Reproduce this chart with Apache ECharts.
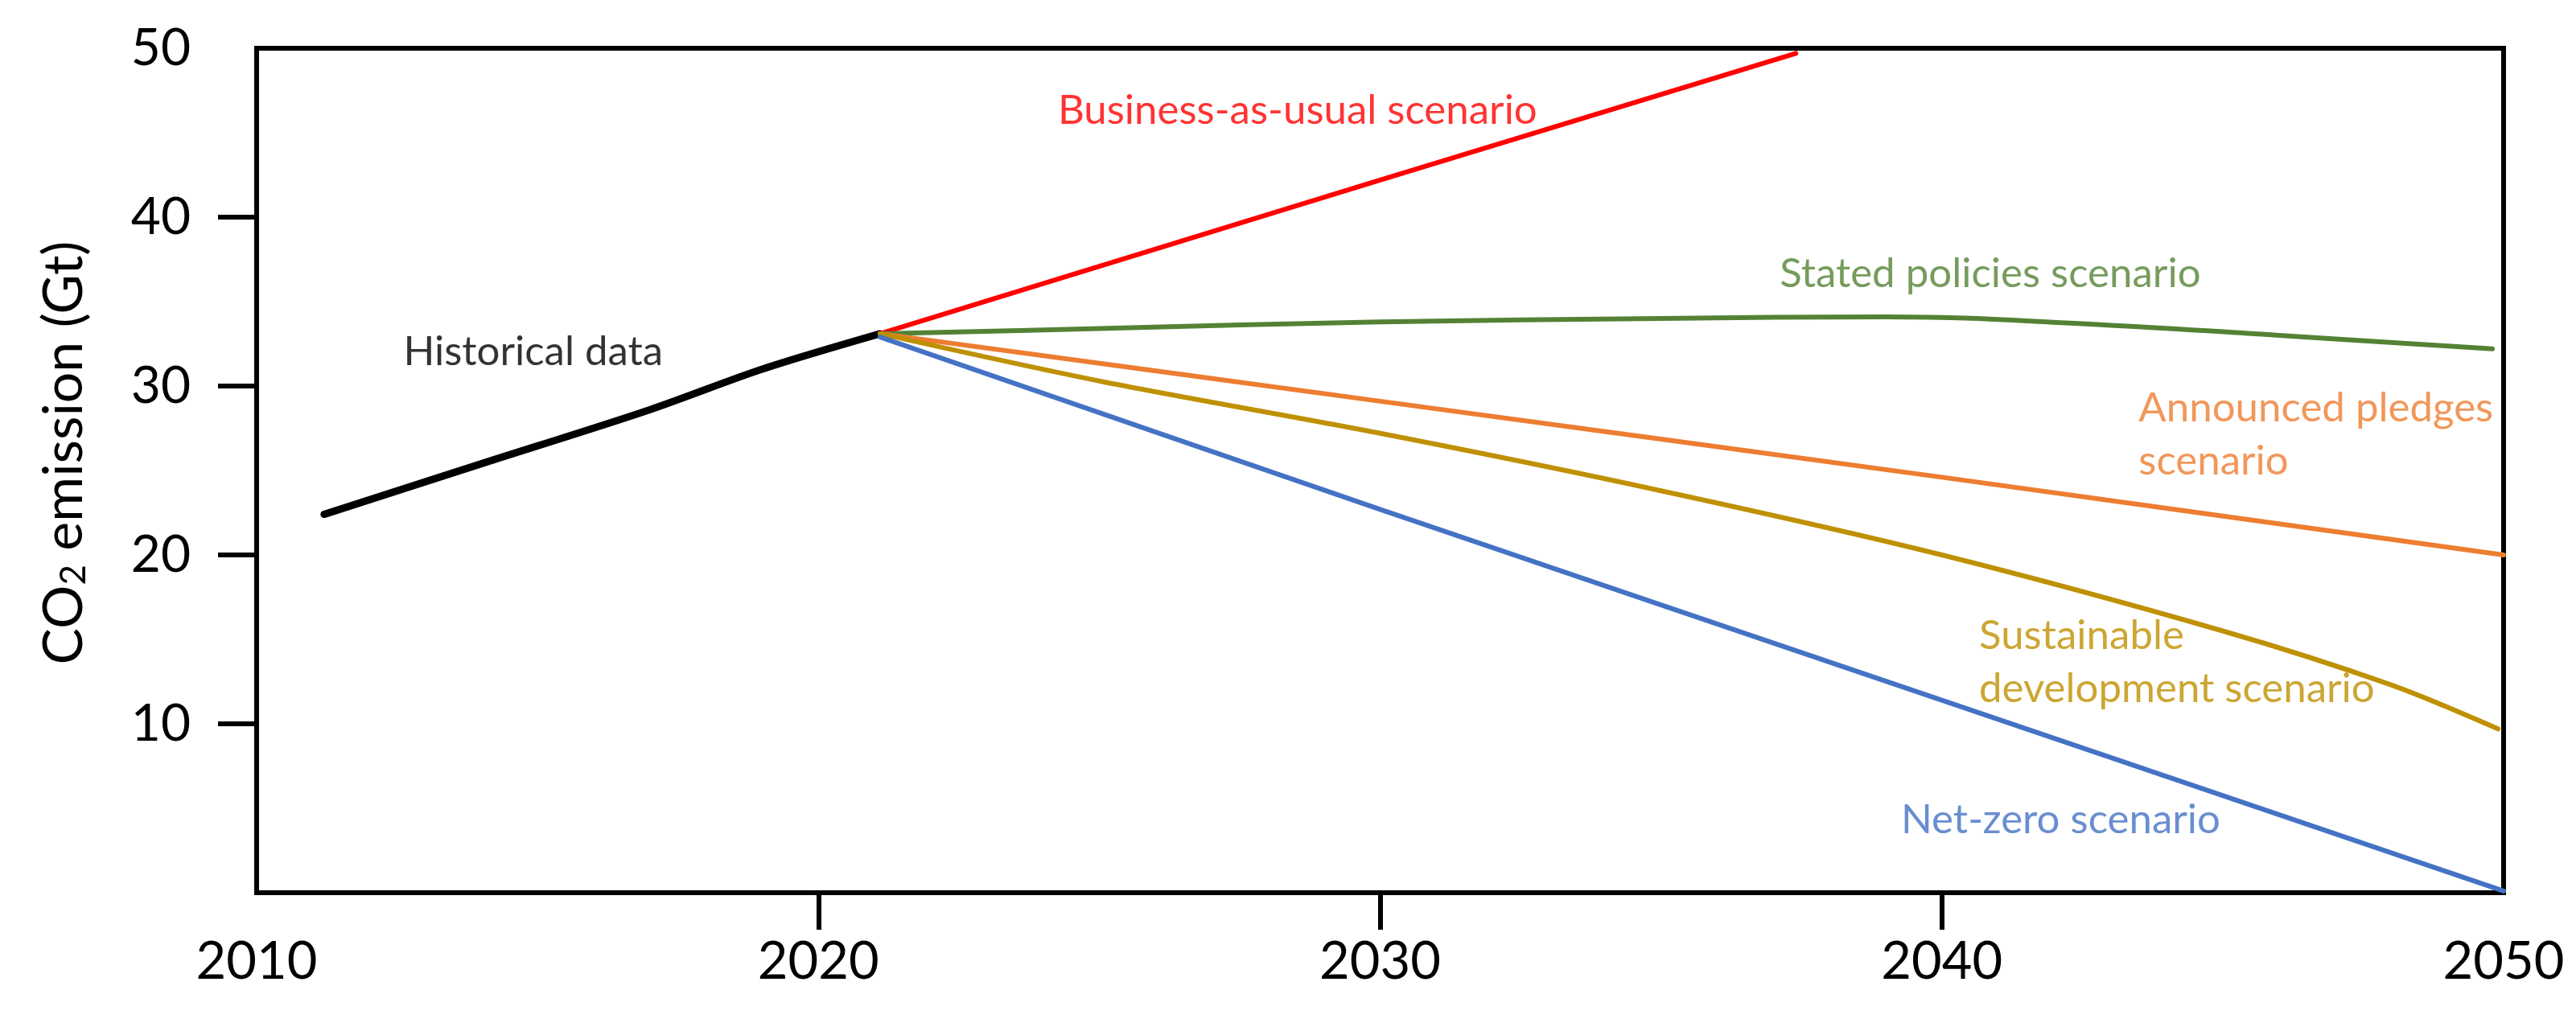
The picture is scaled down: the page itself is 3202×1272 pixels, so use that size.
<!DOCTYPE html>
<html>
<head>
<meta charset="utf-8">
<script src="https://cdn.jsdelivr.net/npm/echarts@6/dist/echarts.min.js"></script>
<style>
html,body{margin:0;padding:0;background:#fff;}
#chart{width:3202px;height:1272px;}
</style>
</head>
<body>
<div id="chart"></div>
<script>
// ---- data ----
const xTickLabels = [2010, 2020, 2030, 2040, 2050];
const xTickMarks = [2020, 2030, 2040];
const yTickLabels = [10, 20, 30, 40, 50];
const yTickMarks = [10, 20, 30, 40];

const histYears = [2011.2, 2014, 2017, 2019, 2021.1];
const histValues = [22.4, 25.4, 28.6, 31.0, 33.1];

const bauYears = [2021.1, 2030, 2037.4];
const bauValues = [33.1, 42.2, 49.7];

const statedYears = [2021.1, 2025, 2030, 2035, 2039, 2043, 2046, 2049.8];
const statedValues = [33.1, 33.4, 33.8, 34.0, 34.1, 33.6, 33.0, 32.2];

const pledgesYears = [2021.1, 2030, 2040, 2050];
const pledgesValues = [33.1, 29.1, 24.6, 20.0];

const sustainYears = [2021.1, 2025, 2030, 2035, 2040, 2045, 2048, 2049.9];
const sustainValues = [33.1, 30.3, 27.2, 23.8, 20.0, 15.5, 12.3, 9.7];

const netZeroYears = [2021.1, 2030, 2040, 2050];
const netZeroValues = [32.9, 22.7, 11.4, 0.1];

// annotation texts and their anchor (left edge, middle) in data coordinates
const annoTexts = ['Historical data', 'Business-as-usual scenario', 'Stated policies scenario',
  'Announced pledges\nscenario', 'Sustainable\ndevelopment scenario', 'Net-zero scenario'];
const annoX = [2012.62, 2024.27, 2037.12, 2043.51, 2040.67, 2039.28];
const annoY = [32.0, 46.3, 36.6, 27.1, 13.6, 4.3];

const colors = {
  hist: '#000000', bau: '#FF0000', stated: '#548235',
  pledges: '#ED7D31', sustain: '#BF9000', netzero: '#4472C4'
};
const annoColors = [colors.hist, colors.bau, colors.stated, colors.pledges, colors.sustain, colors.netzero];

const pairs = (xs, ys) => xs.map((x, i) => [x, ys[i]]);

const FONT = 'Lato';

function lineSeries(name, xs, ys, color, width, smooth) {
  return {
    name, type: 'line', data: pairs(xs, ys), showSymbol: false, symbol: 'none',
    smooth: smooth, silent: true,
    lineStyle: { color, width, cap: 'round', join: 'round' },
    emphasis: { disabled: true }
  };
}

const chart = echarts.init(document.getElementById('chart'), null, { renderer: 'canvas' });

const option = {
  animation: false,
  backgroundColor: '#ffffff',
  grid: {
    left: 319, right: 90, top: 60, bottom: 162,
    show: true, borderColor: '#000', borderWidth: 6, backgroundColor: 'transparent'
  },
  xAxis: {
    type: 'value', min: 2010, max: 2050, interval: 10,
    splitLine: { show: false },
    axisLine: { show: true, lineStyle: { color: '#000', width: 6 } },
    axisTick: { show: true, inside: false, length: 46, customValues: xTickMarks,
      lineStyle: { color: '#000', width: 6 } },
    axisLabel: { show: true, customValues: xTickLabels, margin: 54, color: '#000',
      fontFamily: FONT, fontSize: 65, formatter: v => String(v) }
  },
  yAxis: {
    type: 'value', min: 0, max: 50, interval: 10,
    splitLine: { show: false },
    axisLine: { show: true, lineStyle: { color: '#000', width: 6 } },
    axisTick: { show: true, inside: false, length: 48, customValues: yTickMarks,
      lineStyle: { color: '#000', width: 6 } },
    axisLabel: { show: true, customValues: yTickLabels, margin: 82, color: '#000',
      fontFamily: FONT, fontSize: 64 },
    name: 'CO{sub|2} emission (Gt)',
    nameLocation: 'middle', nameRotate: 90, nameGap: 205,
    nameTextStyle: {
      color: '#000', fontFamily: FONT, fontSize: 68, padding: [0, 0, 0, 44],
      rich: { sub: { fontSize: 44, fontFamily: FONT, color: '#000', verticalAlign: 'bottom', padding: [24, 0, 0, 0] } }
    }
  },
  series: [
    lineSeries('Historical data', histYears, histValues, colors.hist, 9, 0.3),
    lineSeries('Business-as-usual scenario', bauYears, bauValues, colors.bau, 6, false),
    lineSeries('Stated policies scenario', statedYears, statedValues, colors.stated, 6, 0.4),
    lineSeries('Announced pledges scenario', pledgesYears, pledgesValues, colors.pledges, 6, 0.2),
    lineSeries('Sustainable development scenario', sustainYears, sustainValues, colors.sustain, 6, 0.3),
    lineSeries('Net-zero scenario', netZeroYears, netZeroValues, colors.netzero, 6, 0.2),
    {
      type: 'scatter', silent: true, symbolSize: 1,
      itemStyle: { color: 'transparent' },
      emphasis: { disabled: true },
      data: annoTexts.map((t, i) => ({
        value: [annoX[i], annoY[i]],
        label: {
          show: true, formatter: t, position: [0, 0], align: 'left', verticalAlign: 'middle',
          color: annoColors[i], fontFamily: FONT, fontSize: 51, lineHeight: 66
        }
      }))
    }
  ]
};
chart.setOption(option);
</script>
</body>
</html>
